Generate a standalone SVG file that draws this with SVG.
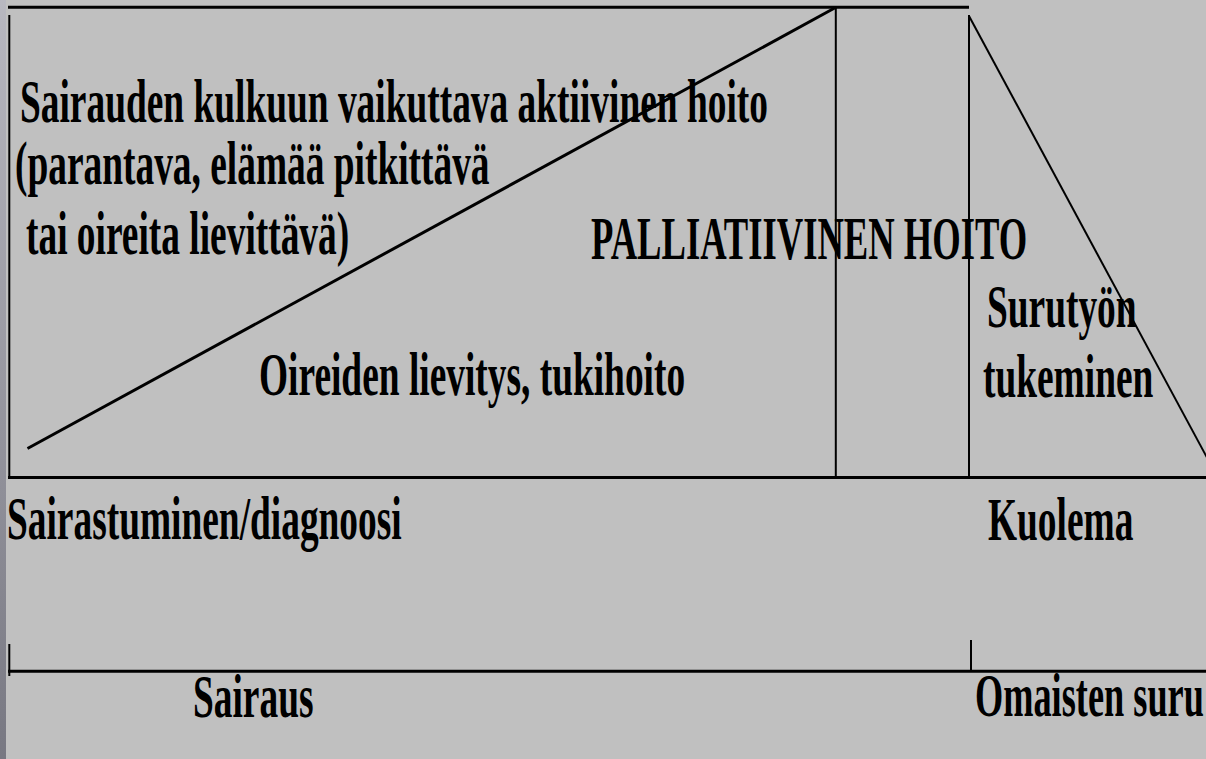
<svg xmlns="http://www.w3.org/2000/svg" width="1206" height="759" viewBox="0 0 1206 759">
<style>
.t{font-family:"Liberation Serif","Times New Roman",serif;font-weight:bold;font-size:61px;fill:#000}
.thick{stroke:#000;stroke-width:3;fill:none}
.thin{stroke:#000;stroke-width:2;fill:none}
</style>
<defs>
<linearGradient id="strip" x1="0" y1="0" x2="0" y2="1">
<stop offset="0" stop-color="#b8b8c0"/>
<stop offset="1" stop-color="#787882"/>
</linearGradient>
</defs>
<rect x="0" y="0" width="1206" height="759" fill="#c0c0c0"/>
<rect x="0" y="0" width="6" height="759" fill="url(#strip)"/>
<g id="connectors">
<line class="thick" x1="8" y1="7.3" x2="969" y2="7.3"/>
<line class="thin" x1="9.3" y1="15" x2="9.3" y2="478"/>
<line class="thick" x1="8" y1="477.5" x2="1206" y2="477.5"/>
<line class="thick" x1="27.5" y1="448.5" x2="836" y2="7.3"/>
<line class="thin" x1="835.8" y1="7.3" x2="835.8" y2="478"/>
<line class="thin" x1="969" y1="15" x2="969" y2="478"/>
<line class="thin" x1="969" y1="16" x2="1218" y2="478"/>
<line class="thick" x1="8" y1="671.3" x2="1206" y2="671.3"/>
<line class="thin" x1="9.3" y1="644" x2="9.3" y2="676"/>
<line class="thin" x1="971" y1="640" x2="971" y2="671"/>
</g>
<g id="aktiivinen-hoito">
<text class="t" transform="matrix(0.613 0 0 1 20 122)">Sairauden kulkuun vaikuttava aktiivinen hoito</text>
<text class="t" transform="matrix(0.613 0 0 1 15 184)">(parantava, elämää pitkittävä</text>
<text class="t" transform="matrix(0.613 0 0 1 26 254)">tai oireita lievittävä)</text>
</g>
<g id="palliatiivinen-hoito">
<text class="t" transform="matrix(0.6 0 0 1 591 259)">PALLIATIIVINEN HOITO</text>
</g>
<g id="oireiden-lievitys">
<text class="t" transform="matrix(0.613 0 0 1 259 395)">Oireiden lievitys, tukihoito</text>
</g>
<g id="surutyon-tukeminen">
<text class="t" transform="matrix(0.613 0 0 1 987 327)">Surutyön</text>
<text class="t" transform="matrix(0.613 0 0 1 983 397)">tukeminen</text>
</g>
<g id="sairastuminen">
<text class="t" transform="matrix(0.613 0 0 1 7 539)">Sairastuminen/diagnoosi</text>
</g>
<g id="kuolema">
<text class="t" transform="matrix(0.613 0 0 1 988 540)">Kuolema</text>
</g>
<g id="sairaus">
<text class="t" transform="matrix(0.613 0 0 1 193 717)">Sairaus</text>
</g>
<g id="omaisten-suru">
<text class="t" transform="matrix(0.595 0 0 1 975 716)">Omaisten suru</text>
</g>
</svg>
